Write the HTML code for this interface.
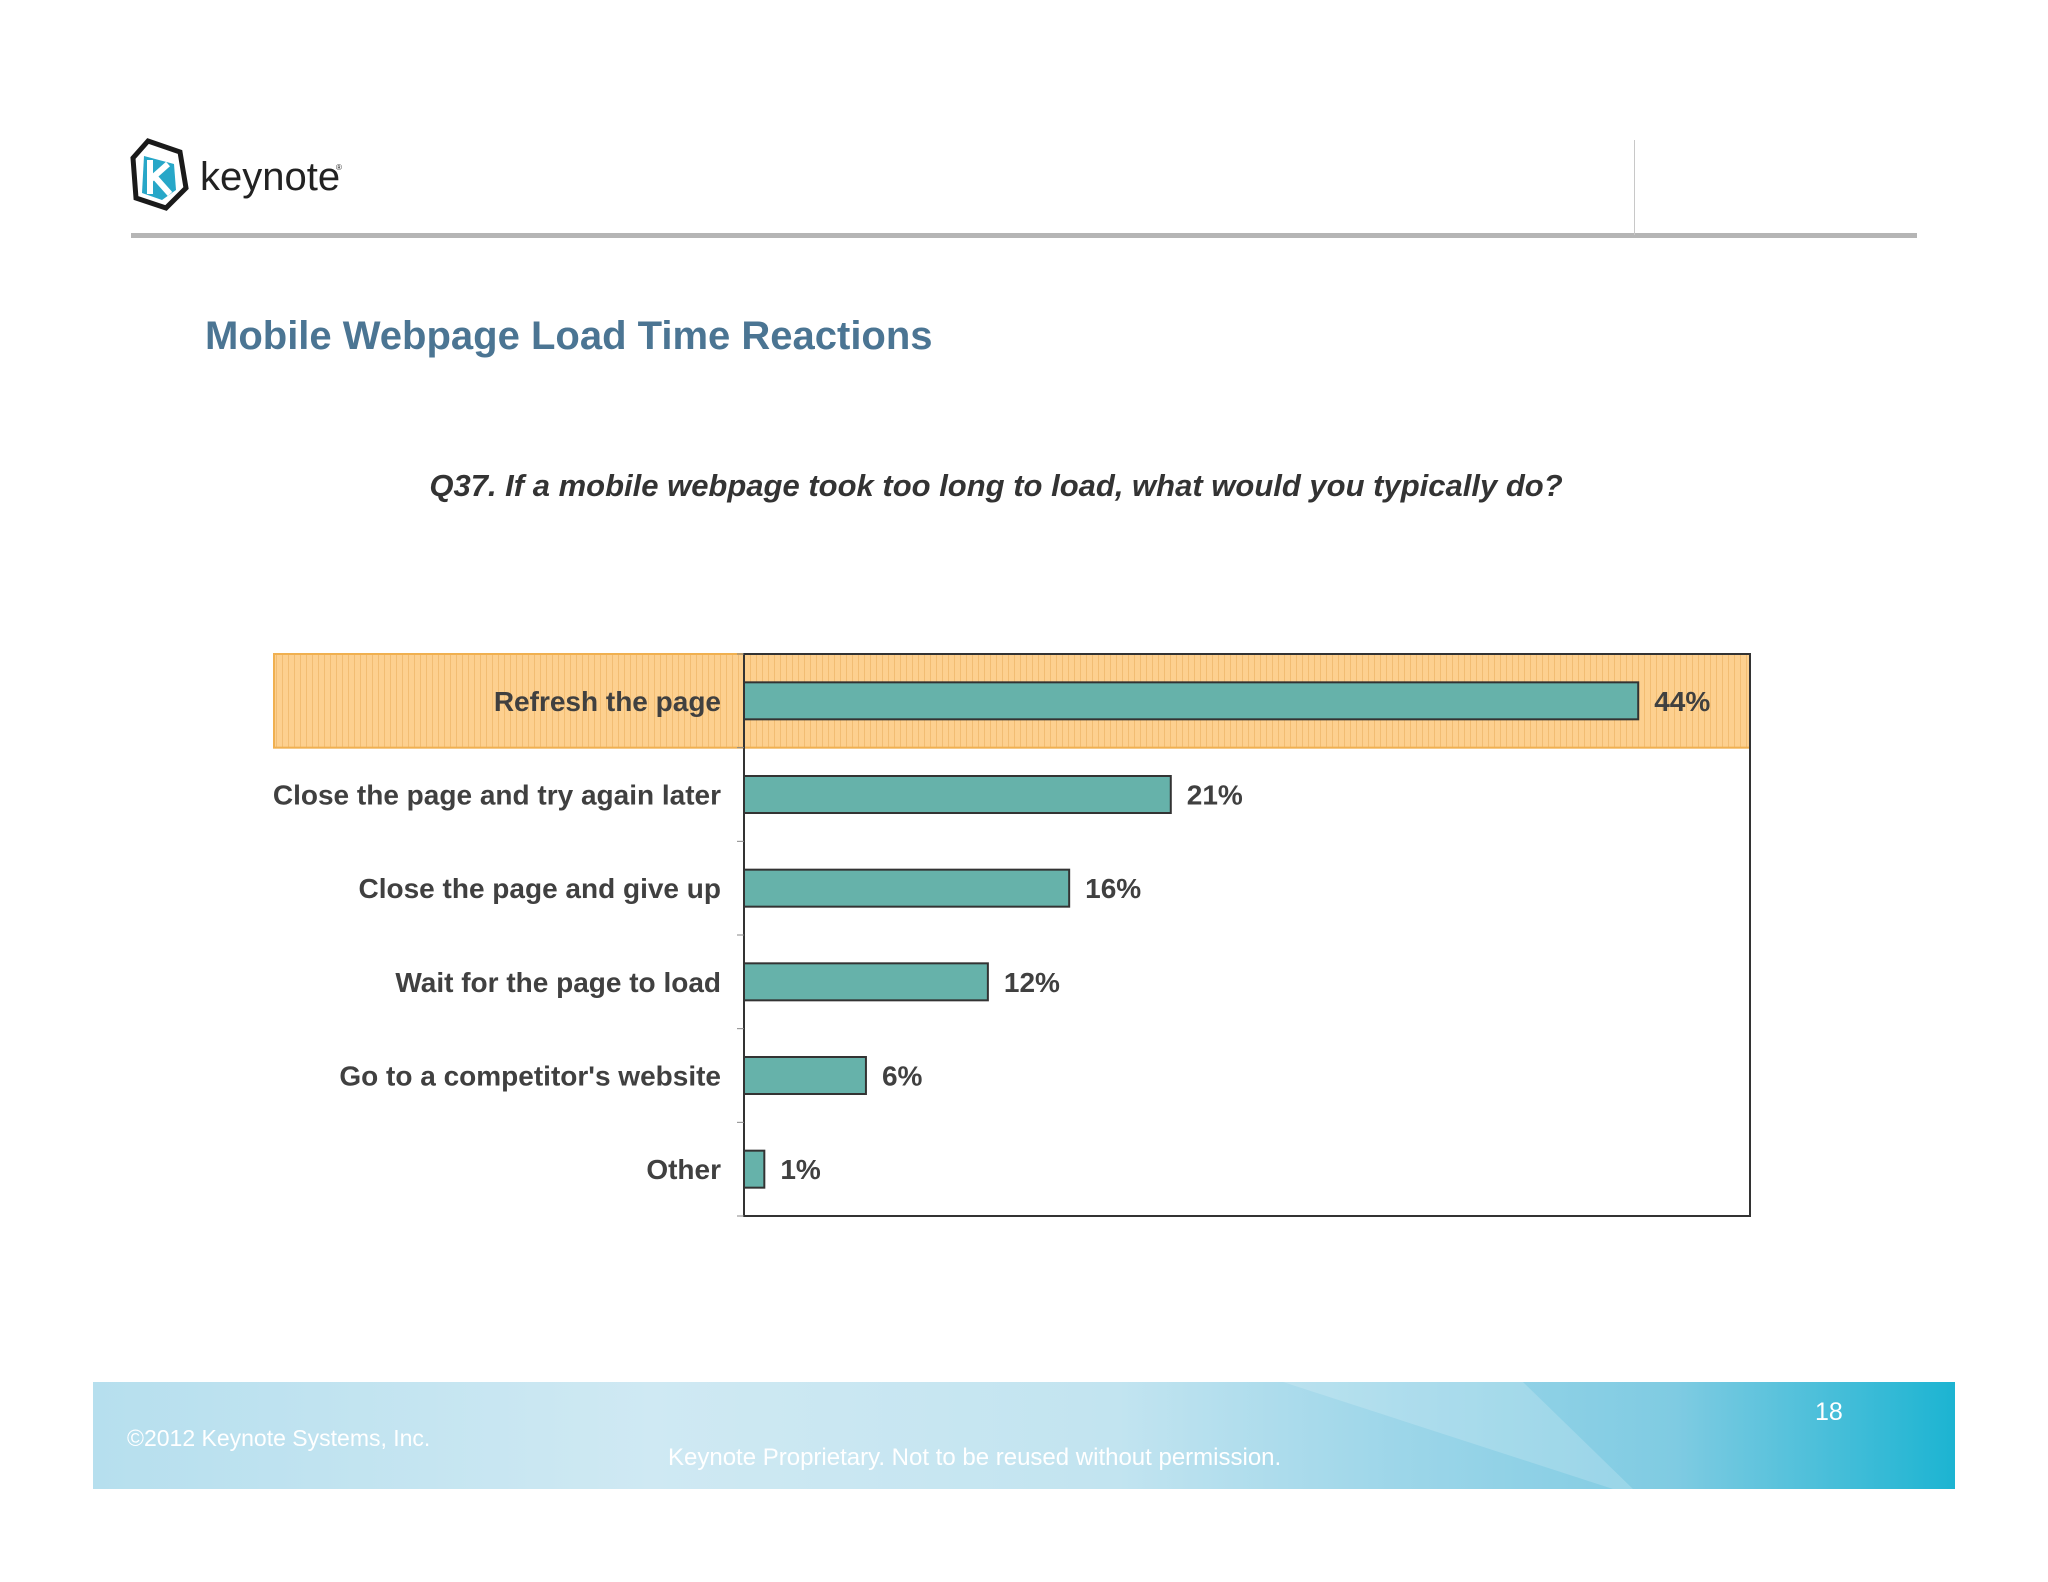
<!DOCTYPE html>
<html><head><meta charset="utf-8"><style>
html,body{margin:0;padding:0;background:#fff;}
body{width:2048px;height:1582px;position:relative;overflow:hidden;font-family:"Liberation Sans",sans-serif;}
.abs{position:absolute;}
</style></head><body>
<div class="abs" style="left:130px;top:138px;width:220px;height:75px;">
<svg width="220" height="75" viewBox="0 0 220 75">
<polygon points="18,3 50,14 56,50 36,70 6,60 3,20" fill="#fff" stroke="#1a1a1a" stroke-width="5"/>
<polygon points="14,18 44,26 46,52 32,62 12,55" fill="#27a7c8"/>
<path d="M20,22 L20,56 M20,42 L38,26 M24,38 L40,56" stroke="#fff" stroke-width="6" fill="none"/>
<text x="70" y="52" font-family="Liberation Sans, sans-serif" font-size="40" fill="#222">keynote</text>
<text x="206" y="32" font-size="8" fill="#222">®</text>
</svg></div>
<div class="abs" style="left:131px;top:233px;width:1786px;height:5px;background:#b5b5b5;"></div>
<div class="abs" style="left:1634px;top:140px;width:1px;height:95px;background:#c8c8c8;"></div>
<div class="abs" style="left:205px;top:314px;font-size:40px;font-weight:bold;color:#4b7593;font-family:'Liberation Sans',sans-serif;">Mobile Webpage Load Time Reactions</div>
<div class="abs" style="left:0;width:1992px;top:468px;text-align:center;font-size:31px;font-weight:bold;font-style:italic;color:#333;">Q37. If a mobile webpage took too long to load, what would you typically do?</div>

<svg class="abs" style="left:0;top:0" width="2048" height="1582" id="chart">
<defs><pattern id="stripes" width="6" height="10" patternUnits="userSpaceOnUse"><rect width="6" height="10" fill="#fdd08f"/><line x1="0.5" y1="0" x2="0.5" y2="10" stroke="#f2bd73" stroke-width="1"/></pattern></defs>
</svg>

<div class="abs" style="left:93px;top:1382px;width:1862px;height:107px;background:linear-gradient(90deg,#b6dfee 0%,#cfe9f3 30%,#c2e4f0 55%,#9dd6e9 70%,#7fcbe2 85%,#1cb4d2 100%);">
<svg class="abs" style="left:0;top:0" width="1862" height="107">
<polygon points="1190,0 1430,0 1540,107 1520,107" fill="rgba(255,255,255,0.18)"/>
</svg>
</div>
<div class="abs" style="left:127px;top:1425px;font-size:23px;color:#fff;">©2012 Keynote Systems, Inc.</div>
<div class="abs" style="left:668px;top:1444px;font-size:24px;color:#fff;">Keynote Proprietary. Not to be reused without permission.</div>
<div class="abs" style="left:1815px;top:1398px;font-size:25px;color:#fff;">18</div>

<script>
const categories = ["Refresh the page","Close the page and try again later","Close the page and give up","Wait for the page to load","Go to a competitor's website","Other"];
const values = [44,21,16,12,6,1];
const valueLabels = ["44%","21%","16%","12%","6%","1%"];
const highlightIndex = [0];

const svg = document.getElementById('chart');
const NS = 'http://www.w3.org/2000/svg';
const plotL = 744, plotR = 1750, plotT = 654, plotB = 1216, xMax = 49.5;
const band = (plotB - plotT) / categories.length;
const xScale = v => plotL + v / xMax * (plotR - plotL);
const yCenter = i => plotT + band * (i + 0.5);
const barH = 37;
function mk(tag, attrs){const e=document.createElementNS(NS,tag);for(const k in attrs)e.setAttribute(k,attrs[k]);svg.appendChild(e);return e;}

highlightIndex.forEach(i=>{
  const h = mk('rect',{x:274,y:plotT+band*i,width:plotR-274,height:band,fill:'url(#stripes)',stroke:'#f0b050','stroke-width':2});
  
  
});
const frame = mk('rect',{x:plotL,y:plotT,width:plotR-plotL,height:plotB-plotT,fill:'none',stroke:'#333','stroke-width':2});


for(let i=0;i<=categories.length;i++){
  const t = mk('line',{x1:plotL-7,x2:plotL,y1:plotT+band*i,y2:plotT+band*i,stroke:'#888','stroke-width':1});
  
  
}
categories.forEach((c,i)=>{
  const y = yCenter(i);
  const r = mk('rect',{x:plotL,y:y-barH/2,width:xScale(values[i])-plotL,height:barH,fill:'#66b2aa',stroke:'#333','stroke-width':2});
  
  
  const lab = mk('text',{x:721,y:y+10,'text-anchor':'end','font-size':28,'font-weight':'bold',fill:'#404040','font-family':'Liberation Sans, sans-serif'});
  lab.textContent = c;
  
  
  const v = mk('text',{x:xScale(values[i])+16,y:y+10,'font-size':28,'font-weight':'bold',fill:'#404040','font-family':'Liberation Sans, sans-serif'});
  v.textContent = valueLabels[i];
  
  
});
</script>
</body></html>
